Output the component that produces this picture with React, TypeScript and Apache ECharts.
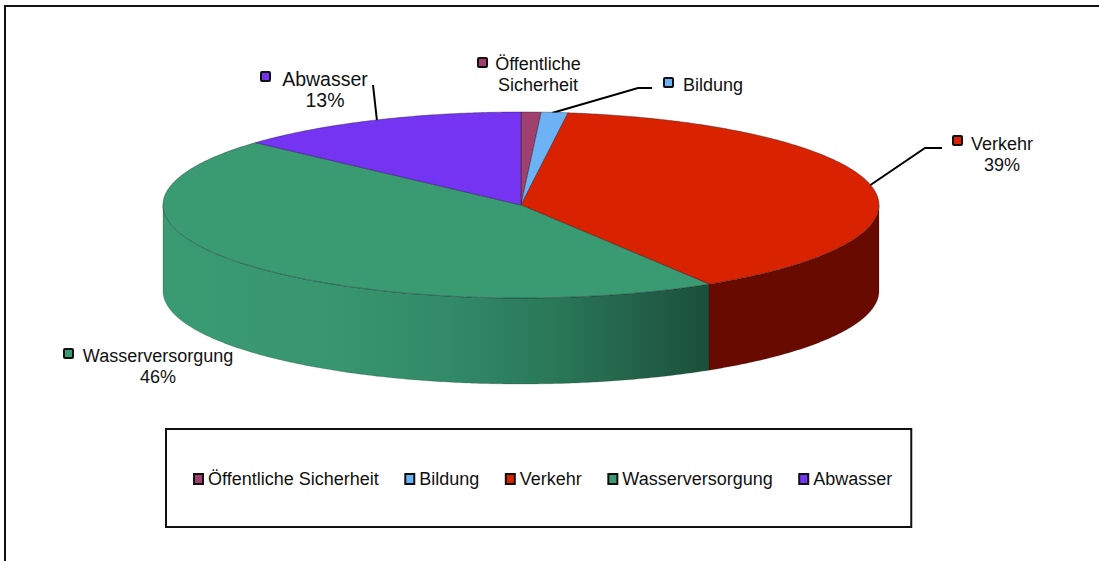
import React, { useEffect, useRef } from "react";
import * as echarts from "echarts";

const categories = ["Öffentliche Sicherheit", "Bildung", "Verkehr", "Wasserversorgung", "Abwasser"];
const shares = [0.9, 1.2, 39.1, 45.5, 13.3];
const percentLabels = ["", "", "39%", "46%", "13%"];
const calloutNames = ["Öffentliche\nSicherheit", "Bildung", "Verkehr", "Wasserversorgung", "Abwasser"];
const colors = ["#a0406f", "#6cb2f4", "#d92300", "#3a9b73", "#7434f2"];

const W = 1099;
const H = 561;
const FONT = '"Liberation Sans", Arial, sans-serif';
const CX = 521;
const CY = 205;
const RX = 358;
const RY = 93;
const DEPTH = 86;

const px = (t: number) => CX + RX * Math.sin(t);
const py = (t: number) => CY - RY * Math.cos(t);

function arc(a: number, b: number, dy = 0): number[][] {
  const n = Math.max(2, Math.ceil((b - a) / 0.01));
  const pts: number[][] = [];
  for (let i = 0; i <= n; i++) {
    const t = a + ((b - a) * i) / n;
    pts.push([px(t), py(t) + dy]);
  }
  return pts;
}

const total = shares.reduce((s, v) => s + v, 0);

function wallFill(i: number): any {
  if (i === 2) return "#690a00";
  return {
    type: "linear",
    x: 0,
    y: 0,
    x2: 1,
    y2: 0,
    colorStops: [
      { offset: 0, color: "#3a9b73" },
      { offset: 0.3, color: "#389670" },
      { offset: 0.52, color: "#328a68" },
      { offset: 0.7, color: "#2a7a5a" },
      { offset: 0.89, color: "#225f47" },
      { offset: 1, color: "#1b4f39" },
    ],
  };
}

function makeRenderItem(i: number) {
  return (_p: any, api: any) => {
    const before = shares.slice(0, i).reduce((s, v) => s + v, 0);
    const a = (before / total) * Math.PI * 2;
    const b = a + (api.value(0) / total) * Math.PI * 2;
    const children: any[] = [];
    const wa = Math.max(a, Math.PI / 2);
    const wb = Math.min(b, (3 * Math.PI) / 2);
    if (wb > wa) {
      const top = arc(wa, wb);
      const bottom = arc(wa, wb, DEPTH).reverse();
      children.push({
        type: "polygon",
        shape: { points: top.concat(bottom) },
        style: { fill: wallFill(i), stroke: "rgba(20,30,25,0.35)", lineWidth: 0.6 },
      });
    }
    children.push({
      type: "polygon",
      shape: { points: [[CX, CY], ...arc(a, b)] },
      style: { fill: colors[i], stroke: "rgba(20,20,40,0.55)", lineWidth: 0.7 },
    });
    return { type: "group", children };
  };
}

// Callout layout: [marker x, marker y, text x, text align, text top y, font size]
const calloutLayout: [number, number, number, string, number, number][] = [
  [477, 57, 538, "center", 53, 18],
  [663, 77, 683, "left", 74, 18],
  [952, 135, 1002, "center", 133, 18],
  [63, 348, 158, "center", 345, 18],
  [260, 71, 325, "center", 68, 19.5],
];

const leaders: number[][][] = [
  [[552, 113], [638, 88], [652, 88]],
  [[869, 186], [925, 148], [942, 148]],
  [[373, 85], [377, 121]],
];

function buildGraphic() {
  const els: any[] = [
    {
      type: "polyline",
      shape: { points: [[5, H], [5, 6], [W, 6]] },
      style: { stroke: "#111", lineWidth: 2, fill: "none" },
      silent: true,
    },
  ];
  leaders.forEach((points) => {
    els.push({
      type: "polyline",
      shape: { points },
      style: { stroke: "#000", lineWidth: 2, fill: "none" },
      silent: true,
    });
  });
  categories.forEach((_, i) => {
    const [mx, my, tx, align, ty, fs] = calloutLayout[i];
    els.push({
      type: "rect",
      shape: { x: mx + 1, y: my + 1, width: 9, height: 9, r: 1 },
      style: { fill: colors[i], stroke: "#111", lineWidth: 2 },
      silent: true,
    });
    const text = calloutNames[i] + (percentLabels[i] ? "\n" + percentLabels[i] : "");
    els.push({
      type: "text",
      x: tx,
      y: ty,
      style: {
        text,
        fill: "#111",
        font: `${fs}px ${FONT}`,
        lineHeight: 21,
        align,
        verticalAlign: "top",
      },
      silent: true,
    });
  });
  return els;
}

export default function App() {
  const ref = useRef<HTMLDivElement>(null);
  useEffect(() => {
    document.body.style.margin = "0";
    const chart = echarts.init(ref.current!, undefined, { renderer: "svg" });
    chart.setOption({
      animation: false,
      backgroundColor: "#fff",
      legend: {
        left: 166,
        top: 429,
        orient: "horizontal",
        padding: [41, 19, 39, 27],
        backgroundColor: "#fff",
        borderColor: "#111",
        borderWidth: 2,
        borderRadius: 0,
        itemGap: 25.5,
        itemWidth: 9,
        itemHeight: 10,
        selectedMode: false,
        textStyle: { color: "#111", fontSize: 18, fontFamily: FONT },
        data: categories.map((name, i) => ({
          name,
          icon: "rect",
          itemStyle: { color: colors[i], borderColor: "#111", borderWidth: 2 },
        })),
      },
      series: categories.map((name, i) => ({
        type: "custom",
        name,
        coordinateSystem: "none",
        silent: true,
        itemStyle: { color: colors[i] },
        renderItem: makeRenderItem(i),
        data: [[shares[i]]],
      })),
      graphic: buildGraphic(),
    });
    return () => chart.dispose();
  }, []);
  return <div ref={ref} style={{ width: W, height: H, overflow: "hidden" }} />;
}
